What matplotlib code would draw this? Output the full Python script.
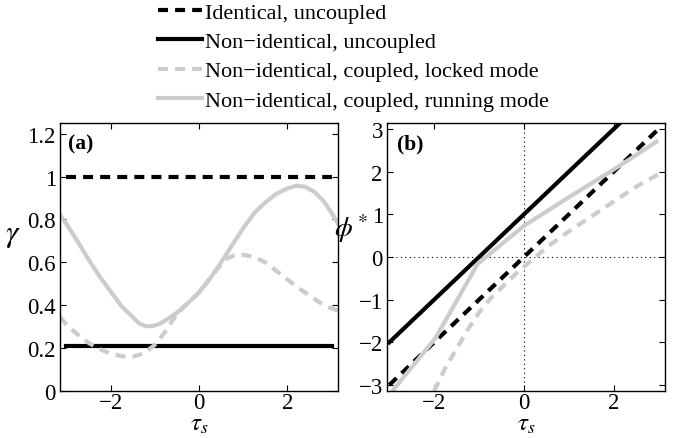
import numpy as np
import matplotlib
matplotlib.use("Agg")
import matplotlib.pyplot as plt

plt.rcParams['font.family'] = ['Liberation Serif', 'DejaVu Serif']
plt.rcParams['mathtext.fontset'] = 'stix'
plt.rcParams['axes.unicode_minus'] = True

# ---- data ----
# panel (a): gamma vs tau_s
tau_flat = [-3.0, 3.0]
gamma_ident = [1.0, 1.0]
gamma_nonident = [0.21, 0.21]

tau_run_a = [-3.14, -3.0, -2.75, -2.5, -2.25, -2.0, -1.75, -1.5, -1.35, -1.2,
             -1.05, -0.9, -0.75, -0.5, -0.25, 0.0, 0.25, 0.5, 0.75, 1.0,
             1.25, 1.5, 1.75, 2.0, 2.2, 2.4, 2.6, 2.8, 3.0, 3.14]
gamma_run = [0.82, 0.78, 0.70, 0.615, 0.535, 0.465, 0.395, 0.345, 0.315, 0.302,
             0.303, 0.312, 0.33, 0.365, 0.41, 0.46, 0.525, 0.60, 0.68, 0.76,
             0.83, 0.88, 0.92, 0.945, 0.958, 0.952, 0.93, 0.89, 0.83, 0.78]

tau_lock_a = [-3.14, -3.0, -2.75, -2.5, -2.25, -2.0, -1.75, -1.5, -1.25, -1.0,
              -0.75, -0.5, -0.25, 0.0, 0.25, 0.5, 0.65, 0.8, 1.0, 1.25,
              1.5, 1.75, 2.0, 2.25, 2.5, 2.75, 3.0, 3.14]
gamma_lock = [0.345, 0.31, 0.265, 0.225, 0.195, 0.175, 0.162, 0.16, 0.175, 0.215,
              0.28, 0.36, 0.41, 0.46, 0.525, 0.59, 0.62, 0.632, 0.635, 0.625,
              0.60, 0.56, 0.52, 0.48, 0.445, 0.41, 0.385, 0.375]

# panel (b): phi* vs tau_s
tau_lin = [-3.0, 3.0]
phi_ident = [-3.0, 3.0]
phi_nonident = [-2.0, 4.0]

tau_run_b = [-2.93, -1.97, -1.03, 0.0, 1.0, 2.0, 2.95]
phi_run = [-3.14, -1.9, -0.16, 0.73, 1.40, 2.05, 2.70]

tau_lock_b = [-2.0, -1.75, -1.5, -1.25, -1.0, -0.75, -0.5, -0.25, 0.0, 0.5,
              1.0, 1.5, 2.0, 2.5, 3.1]
phi_lock = [-3.14, -2.6, -2.15, -1.7, -1.3, -0.98, -0.72, -0.46, -0.23, 0.22,
            0.6, 0.95, 1.3, 1.65, 2.0]

labels = ['Identical, uncoupled',
          'Non\u2212identical, uncoupled',
          'Non\u2212identical, coupled, locked mode',
          'Non\u2212identical, coupled, running mode']

gray = '#cccccc'
lw = 3
dash = (2.4, 1.7)
fs = 16.5

fig = plt.figure(figsize=(6.74, 4.39), dpi=100)
ax1 = fig.add_axes([60/674, 1-392/439, 278/674, 268/439])
ax2 = fig.add_axes([387/674, 1-392/439, 278/674, 268/439])

# panel (a)
h1, = ax1.plot(tau_flat, gamma_ident, color='black', lw=lw, dashes=dash)
h2, = ax1.plot(tau_flat, gamma_nonident, color='black', lw=lw)
h3, = ax1.plot(tau_lock_a, gamma_lock, color=gray, lw=lw, dashes=dash)
h4, = ax1.plot(tau_run_a, gamma_run, color=gray, lw=lw)
ax1.set_xlim(-np.pi, np.pi)
ax1.set_ylim(0, 1.25)
ax1.set_yticks([0, 0.2, 0.4, 0.6, 0.8, 1, 1.2])
ax1.set_yticklabels(['0', '0.2', '0.4', '0.6', '0.8', '1', '1.2'])
ax1.set_xticks([-2, 0, 2])
ax1.text(0.03, 0.96, '(a)', transform=ax1.transAxes, fontsize=fs - 1,
         fontweight='bold', va='top', ha='left')
ax1.set_ylabel(r'$\gamma$', rotation=0, fontsize=fs + 6)
ax1.yaxis.set_label_coords(-0.17, 0.53)

# panel (b)
ax2.axhline(0, color='black', lw=0.8, ls=(0, (1, 3)))
ax2.axvline(0, color='black', lw=0.8, ls=(0, (1, 3)))
ax2.plot(tau_lin, phi_ident, color='black', lw=lw, dashes=dash)
ax2.plot(tau_lin, phi_nonident, color='black', lw=lw)
ax2.plot(tau_lock_b, phi_lock, color=gray, lw=lw, dashes=dash)
ax2.plot(tau_run_b, phi_run, color=gray, lw=lw)
ax2.set_xlim(-3.05, np.pi)
ax2.set_ylim(-3.14, 3.14)
ax2.set_yticks([-3, -2, -1, 0, 1, 2, 3])
ax2.set_xticks([-2, 0, 2])
ax2.text(0.035, 0.96, '(b)', transform=ax2.transAxes, fontsize=fs - 1,
         fontweight='bold', va='top', ha='left')
ax2.set_ylabel(r'$\phi^*$', rotation=0, fontsize=fs + 4)
ax2.yaxis.set_label_coords(-0.13, 0.55)

for ax in (ax1, ax2):
    ax.tick_params(direction='in', top=True, right=True, length=4,
                   width=0.8, labelsize=fs, pad=3)
    ax.tick_params(axis='x', pad=0.5)
    for s in ax.spines.values():
        s.set_linewidth(1.0)
    ax.set_xlabel(r'$\tau_s$', fontsize=fs + 1.5, labelpad=0)

fig.legend([h1, h2, h3, h4], labels, loc='upper left',
           bbox_to_anchor=(158/674, 1 - 3/439), frameon=False,
           fontsize=fs - 0.5, handlelength=2.0, handletextpad=0.1,
           labelspacing=0.4, borderpad=0, borderaxespad=0)

fig.savefig('out.png', dpi=100)
